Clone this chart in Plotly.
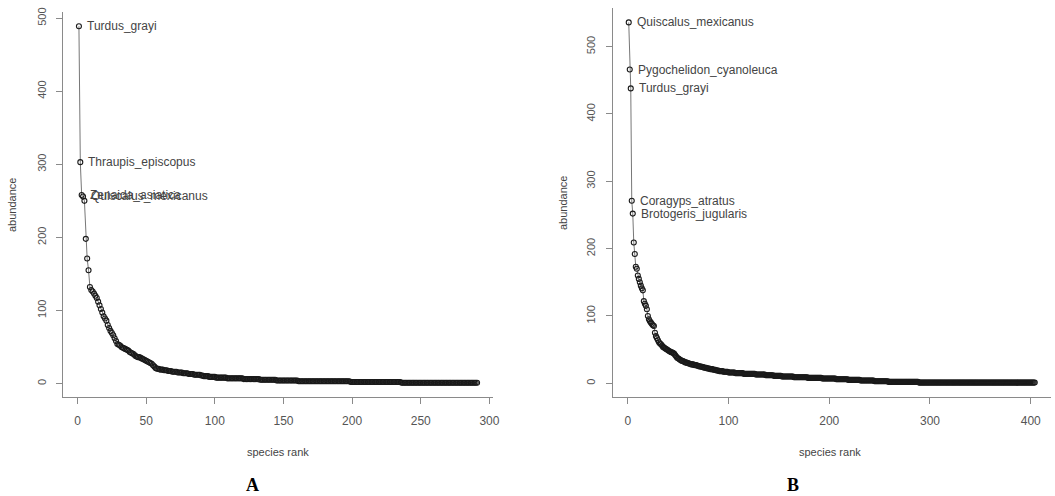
import numpy as np
import plotly.graph_objects as go

W, H = 1055, 496

# ---------------- Panel A data ----------------
head_A = [489, 303, 258, 256, 250, 198, 171, 155, 132, 128,
          126, 123, 120, 117, 112, 107, 102, 97, 92, 89,
          86, 80, 76, 72, 69, 66, 62, 58, 54, 53,
          52, 50, 49, 48, 47, 46, 45, 43, 42, 41,
          40, 38, 37, 36, 36, 35, 34, 33, 32, 31,
          30, 29, 28, 27, 25, 23, 21, 20, 20, 19,
          19, 19, 18, 18, 18, 17, 17, 17, 16, 16,
          16, 16, 15, 15, 15, 15, 14, 14, 14, 14,
          13, 13, 13, 13, 12, 12, 12, 12, 12, 11,
          11, 10, 10, 10, 10, 9, 9, 9, 9, 9]
tail_A_values = [8, 7, 6, 5, 4, 3, 2, 1]
tail_A_counts = [8, 12, 12, 12, 16, 38, 37, 56]
labels_A = ["Turdus_grayi", "Thraupis_episcopus", "Zenaida_asiatica", "Quiscalus_mexicanus"]
xticks_A = [0, 50, 100, 150, 200, 250, 300]

# ---------------- Panel B data ----------------
head_B = [536, 466, 438, 271, 252, 209, 192, 173, 170, 160,
          155, 150, 145, 141, 138, 122, 118, 115, 110, 100,
          95, 92, 90, 88, 86, 85, 75, 70, 67, 64,
          61, 59, 58, 56, 54, 53, 52, 51, 50, 49,
          48, 47, 46, 46, 45, 44, 42, 40, 38, 37,
          36, 35, 34, 33, 33, 32, 31, 31, 30, 30,
          29, 29, 28, 28, 28, 27, 27, 27, 26, 26,
          25, 25, 25, 24, 24, 23, 23, 23, 22, 22,
          22, 21, 21, 21, 20, 20, 20, 19, 19, 19,
          18, 18, 18, 18, 17, 17, 17, 17, 17, 16]
tail_B_values = [16, 15, 14, 13, 12, 11, 10, 9, 8, 7, 6, 5, 4, 3, 2, 1]
tail_B_counts = [6, 8, 12, 10, 8, 8, 12, 14, 14, 14, 12, 12, 14, 14, 30, 116]
labels_B = ["Quiscalus_mexicanus", "Pygochelidon_cyanoleuca", "Turdus_grayi",
            "Coragyps_atratus", "Brotogeris_jugularis"]
xticks_B = [0, 100, 200, 300, 400]

yticks = [0, 100, 200, 300, 400, 500]

abund_A = np.concatenate([head_A, np.repeat(tail_A_values, tail_A_counts)])
abund_B = np.concatenate([head_B, np.repeat(tail_B_values, tail_B_counts)])
rank_A = np.arange(1, len(abund_A) + 1)
rank_B = np.arange(1, len(abund_B) + 1)


def rrange(v):
    lo, hi = float(np.min(v)), float(np.max(v))
    d = 0.04 * (hi - lo)
    return [lo - d, hi + d]


FONT = "Liberation Sans, Arial, sans-serif"
AX_COL = "#8a8a8a"
TXT_COL = "#555555"

fig = go.Figure()
for rk, ab, xa, ya in [(rank_A, abund_A, "x", "y"), (rank_B, abund_B, "x2", "y2")]:
    fig.add_trace(go.Scatter(
        x=rk, y=ab, xaxis=xa, yaxis=ya, mode="lines+markers",
        line=dict(color="#777777", width=1),
        marker=dict(symbol="circle-open", size=5, color="#1a1a1a",
                    line=dict(width=1.1, color="#1a1a1a")),
        showlegend=False, hoverinfo="x+y"))


def xd(a, b):
    return [a / W, b / W]


def yd(top, bottom):
    return [1 - bottom / H, 1 - top / H]


common_x = dict(showline=True, linecolor=AX_COL, linewidth=1, ticks="outside",
                ticklen=6, tickcolor=AX_COL, showgrid=False, zeroline=False,
                tickfont=dict(family=FONT, size=12, color=TXT_COL),
                ticklabelstandoff=7)
common_y = dict(showline=True, linecolor=AX_COL, linewidth=1, ticks="outside",
                ticklen=6, tickcolor=AX_COL, showgrid=False, zeroline=False,
                tickangle=-90, tickvals=yticks,
                tickfont=dict(family=FONT, size=11, color=TXT_COL),
                ticklabelstandoff=6)

fig.update_layout(
    width=W, height=H, margin=dict(l=0, r=0, t=0, b=0, autoexpand=False),
    paper_bgcolor="white", plot_bgcolor="white",
    xaxis=dict(domain=xd(63, 493), range=rrange(rank_A), tickvals=xticks_A,
               anchor="y", **common_x),
    yaxis=dict(domain=yd(12, 397), range=rrange(abund_A), anchor="x", **common_y),
    xaxis2=dict(domain=xd(612.5, 1051), range=rrange(rank_B), tickvals=xticks_B,
                anchor="y2", **common_x),
    yaxis2=dict(domain=yd(8, 397), range=rrange(abund_B), anchor="x2", **common_y),
)

ann = []
for labs, rk, ab, xr, yr in [(labels_A, rank_A, abund_A, "x", "y"),
                              (labels_B, rank_B, abund_B, "x2", "y2")]:
    for i, lab in enumerate(labs):
        ann.append(dict(x=rk[i], y=ab[i], xref=xr, yref=yr, text=lab,
                        showarrow=False, xanchor="left", yanchor="middle",
                        xshift=6, font=dict(family=FONT, size=12, color="#444444")))

for txt, x, y, ang in [("species rank", 278, 452, 0), ("species rank", 830, 452, 0),
                       ("abundance", 12, 205, -90), ("abundance", 563, 203, -90)]:
    ann.append(dict(x=x / W, y=1 - y / H, xref="paper", yref="paper", text=txt,
                    showarrow=False, xanchor="center", yanchor="middle", textangle=ang,
                    font=dict(family=FONT, size=11, color="#444444")))

for txt, x in [("A", 252), ("B", 793)]:
    ann.append(dict(x=x / W, y=1 - 485 / H, xref="paper", yref="paper",
                    text="<b>%s</b>" % txt, showarrow=False, xanchor="center",
                    yanchor="middle",
                    font=dict(family="Liberation Serif, Times New Roman, serif",
                              size=18, color="black")))

fig.update_layout(annotations=ann)
fig.write_html("out.html", config={"displayModeBar": False},
               post_script="document.body.style.margin='0px';"
                           "document.body.style.padding='0px';"
                           "document.body.style.overflow='hidden';")
